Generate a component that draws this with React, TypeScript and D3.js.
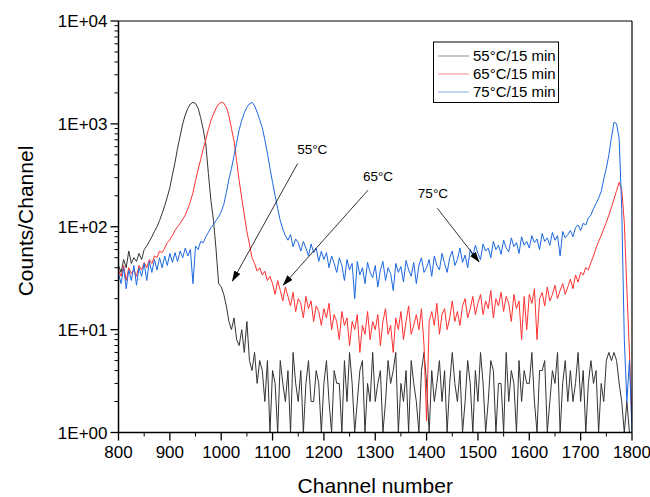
import React from 'react';
import * as d3 from 'd3';

// Channel axis (every 5 channels)
const channels: number[] = d3.range(800, 1801, 5);

// Counts per channel (800..1800 step 5, 201 values each)
const counts55: number[] = [
  42, 36, 48, 40, 58, 44, 50, 46, 55, 48, 60, 65, 72, 80, 90, 100, 115, 135, 160, 195,
  240, 320, 420, 580, 760, 1000, 1220, 1420, 1560, 1620, 1580, 1420, 1150, 880, 640, 330, 180, 115, 60, 28,
  26, 22, 17, 12, 10, 13, 8, 7, 10, 6, 12, 5, 4, 6, 3, 5, 4, 2, 5, 1,
  4, 3, 1, 5, 3, 2, 4, 1, 6, 3, 2, 4, 1, 3, 5, 2, 2, 4, 3, 1,
  3, 5, 2, 1, 4, 3, 3, 1, 5, 2, 6, 3, 1, 2, 4, 5, 1, 3, 2, 6,
  2, 3, 4, 1, 2, 5, 3, 4, 6, 1, 3, 2, 4, 1, 5, 3, 2, 1, 4, 6,
  3, 1, 4, 2, 3, 5, 2, 4, 1, 3, 6, 3, 2, 4, 1, 2, 5, 3, 1, 4,
  2, 6, 3, 1, 2, 5, 4, 1, 3, 3, 1, 6, 2, 4, 3, 1, 5, 2, 4, 3,
  3, 6, 2, 1, 4, 4, 5, 1, 2, 4, 3, 6, 1, 3, 5, 2, 4, 2, 3, 6,
  2, 4, 1, 3, 5, 3, 4, 1, 3, 2, 5, 6, 5, 6, 5, 3, 2, 1, 2, 1,
  1,
];

const counts65: number[] = [
  38, 33, 42, 30, 40, 35, 38, 33, 42, 38, 45, 40, 48, 44, 52, 50, 58, 56, 62, 70,
  75, 82, 92, 100, 108, 118, 130, 150, 175, 215, 280, 360, 450, 570, 700, 880, 1080, 1250, 1420, 1560,
  1620, 1590, 1450, 1200, 900, 680, 440, 280, 190, 130, 90, 68, 50, 44, 37, 40, 34, 37, 30, 33,
  28, 22, 30, 24, 19, 26, 21, 17, 23, 15, 20, 18, 13, 21, 16, 19, 12, 17, 15, 11,
  16, 13, 18, 10, 14, 12, 8, 15, 11, 13, 7, 12, 10, 14, 6, 11, 9, 15, 8, 12,
  10, 14, 7, 12, 16, 9, 11, 6, 13, 10, 15, 8, 12, 17, 9, 11, 14, 10, 16, 7,
  1.3, 12, 15, 11, 18, 9, 14, 16, 10, 13, 19, 12, 15, 11, 17, 20, 13, 16, 21, 14,
  18, 22, 14, 19, 16, 24, 13, 20, 17, 23, 15, 21, 18, 12, 22, 16, 19, 8, 21, 10,
  22, 18, 25, 8, 20, 23, 17, 26, 19, 22, 27, 20, 24, 28, 22, 26, 31, 25, 34, 29,
  36, 34, 40, 38, 45, 52, 62, 72, 82, 95, 110, 130, 155, 185, 225, 270, 230, 110, 25, 6,
  1.3,
];

const counts75: number[] = [
  35, 28, 40, 25, 38, 30, 42, 27, 40, 33, 44, 30, 46, 36, 48, 38, 50, 40, 52, 42,
  55, 45, 56, 46, 58, 50, 62, 52, 60, 28, 65, 60, 72, 70, 80, 88, 98, 105, 115, 125,
  140, 165, 215, 290, 370, 490, 650, 880, 1080, 1280, 1450, 1570, 1620, 1500, 1300, 1100, 920, 700, 520, 370,
  270, 200, 150, 115, 95, 82, 74, 84, 64, 76, 70, 58, 72, 62, 52, 68, 56, 62, 46, 58,
  48, 56, 40, 52, 44, 36, 50, 42, 30, 48, 38, 44, 20, 46, 34, 40, 28, 45, 36, 32,
  42, 26, 38, 46, 30, 40, 35, 24, 44, 36, 41, 29, 47, 38, 33, 45, 28, 42, 50, 36,
  40, 48, 33, 52, 42, 38, 55, 44, 36, 50, 58, 42, 48, 62, 45, 53, 40, 60, 52, 66,
  55, 48, 68, 58, 62, 50, 72, 60, 66, 54, 74, 62, 57, 78, 64, 70, 55, 80, 66, 72,
  62, 82, 70, 76, 60, 86, 72, 78, 66, 88, 74, 82, 52, 90, 78, 84, 92, 80, 98, 104,
  92, 108, 104, 122, 130, 150, 168, 190, 220, 290, 370, 500, 740, 1040, 1000, 720, 150, 8, 2, 5,
  1,
];

const seriesNames: string[] = ['55°C/15 min', '65°C/15 min', '75°C/15 min'];
const seriesColors: string[] = ['#333333', '#ff3030', '#1c68e0'];
const xTicks: number[] = d3.range(800, 1801, 100);
const xMinorTicks: number[] = d3.range(850, 1800, 100);
const yTicks: number[] = [1, 10, 100, 1000, 10000];
const yTickLabels: string[] = ['1E+00', '1E+01', '1E+02', '1E+03', '1E+04'];

// annotations in data coordinates: text anchor, arrow start, arrow tip
const annoLabels: string[] = ['55°C', '65°C', '75°C'];
const annoText: [number, number][] = [[1148, 514], [1276, 281], [1383, 190]];
const annoFrom: [number, number][] = [[1149, 413], [1286, 227], [1421, 151]];
const annoTo: [number, number][] = [[1022, 29.7], [1121, 27.1], [1502, 45.7]];

const W = 650;
const H = 497;
const L = 118.5;
const R = 632;
const T = 21;
const B = 432.5;
const FONT = 'Liberation Sans, Arial, Helvetica, sans-serif';

export default function App() {
  const x = d3.scaleLinear().domain([800, 1800]).range([L, R]);
  const y = d3.scaleLog().domain([1, 10000]).range([B, T]);
  const line = d3
    .line<number>()
    .x((_, i) => x(channels[i]))
    .y((d) => y(Math.max(d, 1)));

  const series = [counts55, counts65, counts75];
  const yMinor: number[] = [];
  [1, 10, 100, 1000].forEach((d) => {
    for (let k = 2; k <= 9; k++) yMinor.push(d * k);
  });

  return (
    <svg width={W} height={H} style={{ position: 'absolute', left: 0, top: 0, background: '#fff' }} fontFamily={FONT}>
      <defs>
        <clipPath id="plotclip">
          <rect x={L} y={T} width={R - L} height={B - T} />
        </clipPath>
        <marker id="arrow" markerUnits="userSpaceOnUse" markerWidth={11} markerHeight={7} refX={10} refY={3.5} orient="auto">
          <path d="M0,0 L11,3.5 L0,7 z" fill="#000" />
        </marker>
      </defs>
      <rect x={0} y={0} width={W} height={H} fill="#fff" />

      <g clipPath="url(#plotclip)">
        {series.map((s, i) => (
          <path key={i} d={line(s) || ''} fill="none" stroke={seriesColors[i]} strokeWidth={1} strokeLinejoin="round" />
        ))}
      </g>

      {/* frame */}
      <line x1={L} y1={T} x2={R} y2={T} stroke="#000" strokeWidth={1} />
      <line x1={R} y1={T} x2={R} y2={B} stroke="#000" strokeWidth={1.2} />
      <line x1={L} y1={T} x2={L} y2={B} stroke="#000" strokeWidth={1.5} />
      <line x1={L} y1={B} x2={R} y2={B} stroke="#000" strokeWidth={1.5} />

      {/* y ticks */}
      {yTicks.map((t, i) => (
        <g key={'y' + i}>
          <line x1={L - 8} x2={L} y1={y(t)} y2={y(t)} stroke="#000" strokeWidth={1.3} />
          <text x={L - 11} y={y(t)} dy="0.36em" textAnchor="end" fontSize={17}>
            {yTickLabels[i]}
          </text>
        </g>
      ))}
      {yMinor.map((t, i) => (
        <line key={'ym' + i} x1={L - 4} x2={L} y1={y(t)} y2={y(t)} stroke="#000" strokeWidth={1} />
      ))}

      {/* x ticks */}
      {xTicks.map((t, i) => (
        <g key={'x' + i}>
          <line x1={x(t)} x2={x(t)} y1={B} y2={B + 8} stroke="#000" strokeWidth={1.3} />
          <text x={x(t)} y={458} textAnchor="middle" fontSize={17}>
            {t}
          </text>
        </g>
      ))}
      {xMinorTicks.map((t, i) => (
        <line key={'xm' + i} x1={x(t)} x2={x(t)} y1={B} y2={B + 4} stroke="#000" strokeWidth={1} />
      ))}

      {/* axis titles */}
      <text x={(L + R) / 2} y={493} textAnchor="middle" fontSize={21}>
        Channel number
      </text>
      <text transform={`translate(33,${221}) rotate(-90)`} textAnchor="middle" fontSize={21}>
        Counts/Channel
      </text>

      {/* annotations */}
      {annoLabels.map((lab, i) => (
        <g key={'a' + i}>
          <text x={x(annoText[i][0])} y={y(annoText[i][1])} fontSize={13.5}>
            {lab}
          </text>
          <line
            x1={x(annoFrom[i][0])}
            y1={y(annoFrom[i][1])}
            x2={x(annoTo[i][0])}
            y2={y(annoTo[i][1])}
            stroke="#000"
            strokeWidth={0.8}
            markerEnd="url(#arrow)"
          />
        </g>
      ))}

      {/* legend */}
      <rect x={433.5} y={42} width={125} height={60.5} fill="#fff" stroke="#000" strokeWidth={1} />
      {seriesNames.map((n, i) => (
        <g key={'l' + i}>
          <line x1={438} x2={469} y1={56 + i * 18} y2={56 + i * 18} stroke={seriesColors[i]} strokeWidth={1} opacity={0.55} />
          <text x={473} y={56 + i * 18} dy="0.36em" fontSize={15}>
            {n}
          </text>
        </g>
      ))}
    </svg>
  );
}
